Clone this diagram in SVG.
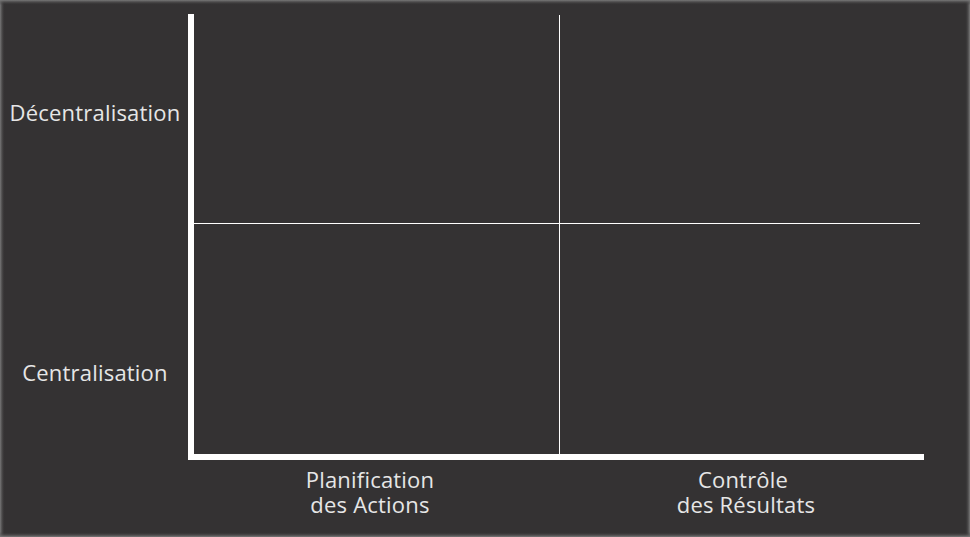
<svg xmlns="http://www.w3.org/2000/svg" width="970" height="537" viewBox="0 0 970 537">
  <style>
    .lbl { font-family: "Open Sans", "DejaVu Sans", sans-serif; font-size: 22px; letter-spacing: 0.2px; fill: #e6e6e6; }
    .axis { fill: #ffffff; }
    .grid { stroke: #ffffff; stroke-width: 1; }
  </style>
  <defs>
    <linearGradient id="edgeL" x1="0" y1="0" x2="1" y2="0">
      <stop offset="0" stop-color="#7a7a7a"/>
      <stop offset="1" stop-color="#343233" stop-opacity="0"/>
    </linearGradient>
    <linearGradient id="edgeR" x1="1" y1="0" x2="0" y2="0">
      <stop offset="0" stop-color="#7a7a7a"/>
      <stop offset="1" stop-color="#343233" stop-opacity="0"/>
    </linearGradient>
    <linearGradient id="edgeT" x1="0" y1="0" x2="0" y2="1">
      <stop offset="0" stop-color="#7a7a7a"/>
      <stop offset="1" stop-color="#343233" stop-opacity="0"/>
    </linearGradient>
    <linearGradient id="edgeB" x1="0" y1="1" x2="0" y2="0">
      <stop offset="0" stop-color="#7a7a7a"/>
      <stop offset="1" stop-color="#343233" stop-opacity="0"/>
    </linearGradient>
  </defs>

  <!-- panel background with soft rim -->
  <rect x="0" y="0" width="970" height="537" fill="#343233"/>
  <rect x="0" y="0" width="5" height="537" fill="url(#edgeL)"/>
  <rect x="965" y="0" width="5" height="537" fill="url(#edgeR)"/>
  <rect x="0" y="0" width="970" height="5" fill="url(#edgeT)"/>
  <rect x="0" y="532" width="970" height="5" fill="url(#edgeB)"/>

  <!-- quadrant dividers -->
  <g id="grid">
    <line class="grid" x1="559.5" y1="15" x2="559.5" y2="454"/>
    <line class="grid" x1="194" y1="223.5" x2="920" y2="223.5"/>
  </g>

  <!-- axes -->
  <g id="axes">
    <rect class="axis" x="188" y="14" width="6" height="446"/>
    <rect class="axis" x="188" y="454" width="736" height="6"/>
  </g>

  <!-- axis labels -->
  <g id="label-decentralisation">
    <text class="lbl" x="95" y="121" text-anchor="middle">Décentralisation</text>
  </g>
  <g id="label-centralisation">
    <text class="lbl" x="95" y="381" text-anchor="middle">Centralisation</text>
  </g>
  <g id="label-planification">
    <text class="lbl" text-anchor="middle"><tspan x="370" y="488">Planification</tspan><tspan x="370" y="513">des Actions</tspan></text>
  </g>
  <g id="label-controle">
    <text class="lbl" text-anchor="middle"><tspan x="743" y="488">Contrôle</tspan><tspan x="746" y="513">des Résultats</tspan></text>
  </g>
</svg>
